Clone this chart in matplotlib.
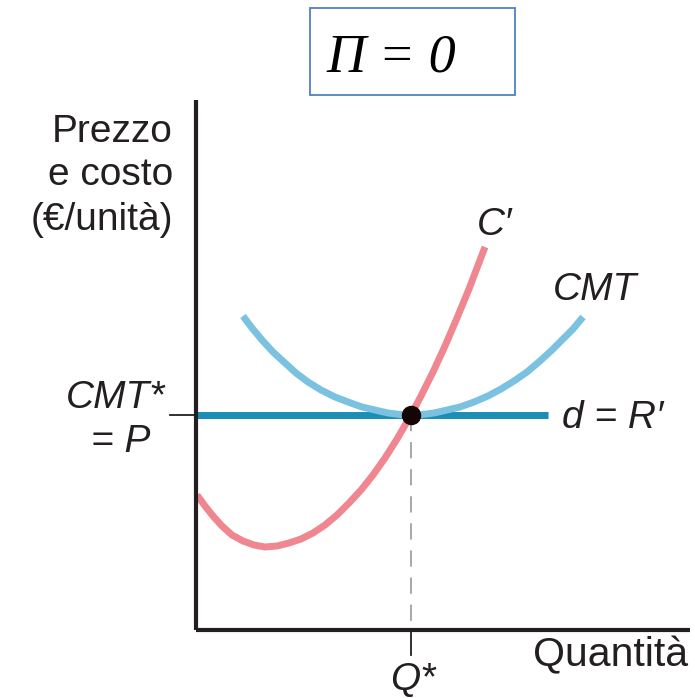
import matplotlib
matplotlib.use("Agg")
import matplotlib.pyplot as plt
from matplotlib.patches import Rectangle

# ---- data (quantity units, price units) ----
mc_q = [0.1, 0.9, 1.7, 2.6, 3.6, 4.7, 5.8, 6.9, 8.1, 9.3, 10.5, 11.7, 12.9, 14.1, 15.3,
        16.5, 17.7, 18.9, 20.1, 21.5, 22.5, 23.7, 24.9, 26.1, 27.3, 28.9]
mc_p = [13.5, 12.4, 11.4, 10.4, 9.5, 8.9, 8.5, 8.3, 8.4, 8.7, 9.1, 9.7, 10.5, 11.5, 12.7,
        14.0, 15.5, 17.2, 19.1, 21.5, 23.4, 25.8, 28.4, 31.2, 34.1, 38.3]

atc_q = [4.7, 5.6, 6.6, 7.7, 8.9, 10.0, 11.2, 12.5, 13.9, 15.2, 16.6, 17.9, 19.2, 20.4, 21.5,
         22.6, 23.8, 25.1, 26.4, 27.8, 29.2, 30.5, 31.8, 33.1, 34.4, 35.6, 36.6, 37.7, 38.7]
atc_p = [31.4, 30.2, 29.0, 27.8, 26.7, 25.7, 24.8, 24.0, 23.3, 22.8, 22.3, 22.0, 21.7, 21.55, 21.5,
         21.55, 21.7, 22.0, 22.3, 22.8, 23.4, 24.1, 24.9, 25.8, 26.9, 28.0, 29.0, 30.1, 31.3]

demand_q = [0.0, 35.2]
price = 21.5
q_star = 21.5

# ---- figure ----
fig = plt.figure(figsize=(6.95, 6.98), dpi=100)
ax = fig.add_axes([0, 0, 1, 1])
ax.set_xlim(-19.6, 49.9)
ax.set_ylim(-6.8, 63.0)
ax.axis("off")

axis_col = "#231f20"
sans = ["Liberation Sans", "DejaVu Sans"]

# axes lines
ax.plot([0, 0], [0, 53.0], color=axis_col, lw=3.0, solid_capstyle="butt", zorder=5)
ax.plot([0, 49.4], [0, 0], color=axis_col, lw=3.0, solid_capstyle="butt", zorder=5)

# ticks
ax.plot([-2.6, 0], [price, price], color=axis_col, lw=1.3, zorder=5)
ax.plot([q_star, q_star], [0, -2.5], color=axis_col, lw=1.3, zorder=5)

# dashed guide
ax.plot([q_star, q_star], [price, 0], color="#a0a0a0", lw=1.3, ls=(0, (9, 6)), zorder=1)

# curves
ax.plot(demand_q, [price, price], color="#1c8db4", lw=5.0, solid_capstyle="butt", zorder=2)
ax.plot(atc_q, atc_p, color="#7ac2e0", lw=5.0, solid_capstyle="butt", solid_joinstyle="round", zorder=3)
ax.plot(mc_q, mc_p, color="#ef8690", lw=5.0, solid_capstyle="butt", solid_joinstyle="round", zorder=4)
ax.plot([q_star], [price], "o", color="#150606", ms=13, zorder=6)

fs = 28
# labels
ax.text(28.1, 39.5, "C\u2032", fontsize=fs, style="italic", family=sans, color=axis_col, ha="left", va="baseline")
ax.text(35.7, 33.0, "CMT", fontsize=fs, style="italic", family=sans, color=axis_col, ha="left", va="baseline")
ax.text(36.6, 20.2, "d = R\u2032", fontsize=fs, style="italic", family=sans, color=axis_col, ha="left", va="baseline")
ax.text(-3.1, 22.2, "CMT*", fontsize=fs, style="italic", family=sans, color=axis_col, ha="right", va="baseline")
ax.text(-4.6, 17.8, "= P", fontsize=fs, style="italic", family=sans, color=axis_col, ha="right", va="baseline")
ax.text(21.7, -6.0, "Q*", fontsize=fs, style="italic", family=sans, color=axis_col, ha="center", va="baseline")
ax.text(49.2, -3.6, "Quantità", fontsize=29.5, family=sans, color=axis_col, ha="right", va="baseline")

for yb, line in zip([48.8, 44.5, 40.0], ["Prezzo", "e costo", "(€/unità)"]):
    ax.text(-2.3, yb, line, fontsize=fs, family=sans, color=axis_col, ha="right", va="baseline")

# title box
ax.add_patch(Rectangle((11.4, 53.5), 20.5, 8.7, fill=False, ec="#4f81bd", lw=1.3, zorder=7))
ax.text(19.55, 55.8, "\u03a0 = 0", fontsize=39, style="italic",
        family=["Liberation Serif", "DejaVu Serif"], color="black", ha="center", va="baseline")

fig.savefig("out.png", dpi=100)
